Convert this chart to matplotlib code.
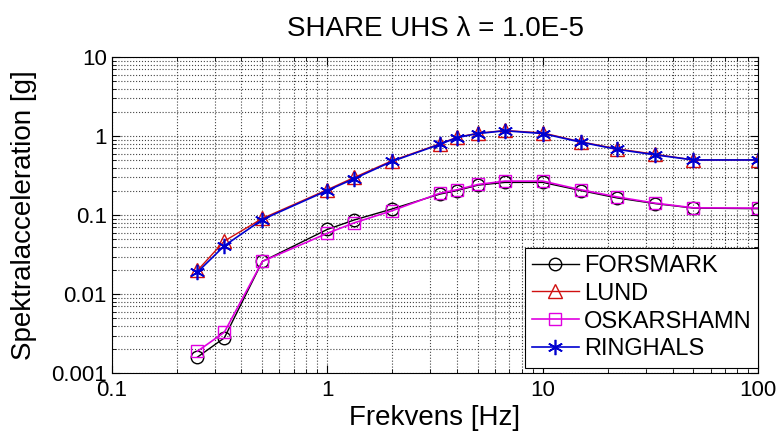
import numpy as np
import matplotlib
matplotlib.use('Agg')
import matplotlib.pyplot as plt
from matplotlib.ticker import LogLocator, FixedLocator, FixedFormatter, NullFormatter

plt.rcParams['font.family'] = ['Liberation Sans', 'DejaVu Sans']

# frequencies [Hz]
freq = [0.25, 0.333, 0.5, 1.0, 1.333, 2.0, 3.333, 4.0, 5.0, 6.667, 10.0, 15.0, 22.2, 33.3, 50.0, 100.0]

# spectral acceleration [g] per site
forsmark = [0.0016, 0.0028, 0.026, 0.066, 0.087, 0.12, 0.185, 0.205, 0.24, 0.26, 0.26, 0.205, 0.165, 0.14, 0.123, 0.121]
lund = [0.020, 0.047, 0.091, 0.21, 0.30, 0.49, 0.80, 0.97, 1.09, 1.18, 1.10, 0.85, 0.69, 0.59, 0.50, 0.50]
oskarshamn = [0.0019, 0.0033, 0.026, 0.059, 0.080, 0.114, 0.19, 0.21, 0.245, 0.27, 0.27, 0.21, 0.17, 0.142, 0.124, 0.123]
ringhals = [0.019, 0.041, 0.088, 0.205, 0.29, 0.48, 0.79, 0.96, 1.08, 1.17, 1.08, 0.84, 0.68, 0.58, 0.50, 0.50]

names = ['FORSMARK', 'LUND', 'OSKARSHAMN', 'RINGHALS']

fig = plt.figure(figsize=(7.81, 4.33), dpi=100)
ax = fig.add_axes([0.143, 0.138, 0.828, 0.730])

ax.plot(freq, forsmark, '-o', color='k', mfc='none', ms=9, lw=1.0, label=names[0])
ax.plot(freq, lund, '-^', color='#d01010', mfc='none', ms=10, lw=1.0, label=names[1])
ax.plot(freq, oskarshamn, '-s', color='#e000e0', mfc='none', ms=9, lw=1.2, label=names[2])
# MATLAB-style asterisk marker
ax.plot(freq, ringhals, '-', marker=(6, 2, 0), color='#0000d0', ms=11, lw=1.2, mew=1.2, label=names[3])

ax.set_xscale('log')
ax.set_yscale('log')
ax.set_xlim(0.1, 100)
ax.set_ylim(0.001, 10)

ax.xaxis.set_major_locator(FixedLocator([0.1, 1, 10, 100]))
ax.xaxis.set_major_formatter(FixedFormatter(['0.1', '1', '10', '100']))
ax.yaxis.set_major_locator(FixedLocator([0.001, 0.01, 0.1, 1, 10]))
ax.yaxis.set_major_formatter(FixedFormatter(['0.001', '0.01', '0.1', '1', '10']))
ax.xaxis.set_minor_locator(LogLocator(base=10, subs=np.arange(2, 10)))
ax.yaxis.set_minor_locator(LogLocator(base=10, subs=np.arange(2, 10)))
ax.xaxis.set_minor_formatter(NullFormatter())
ax.yaxis.set_minor_formatter(NullFormatter())

ax.tick_params(which='both', direction='in', top=True, right=True, labelsize=16)
ax.tick_params(which='major', length=6)
ax.tick_params(which='minor', length=3)
ax.tick_params(axis='x', pad=5)

ax.grid(True, which='both', ls=':', color='#444444', lw=0.8)

ax.set_title('SHARE UHS \u03bb = 1.0E-5', fontsize=20, pad=15)
ax.set_xlabel('Frekvens [Hz]', fontsize=20, labelpad=3)
ax.set_ylabel('Spektralacceleration [g]', fontsize=20, labelpad=10)

leg = ax.legend(loc='lower right', bbox_to_anchor=(1.0, 0.018), fontsize=17,
                fancybox=False, framealpha=1, edgecolor='k', handlelength=2.0,
                handletextpad=0.2, borderpad=0.3, labelspacing=0.25, borderaxespad=0)
leg.get_frame().set_linewidth(0.8)

fig.savefig('out.png', dpi=100)
